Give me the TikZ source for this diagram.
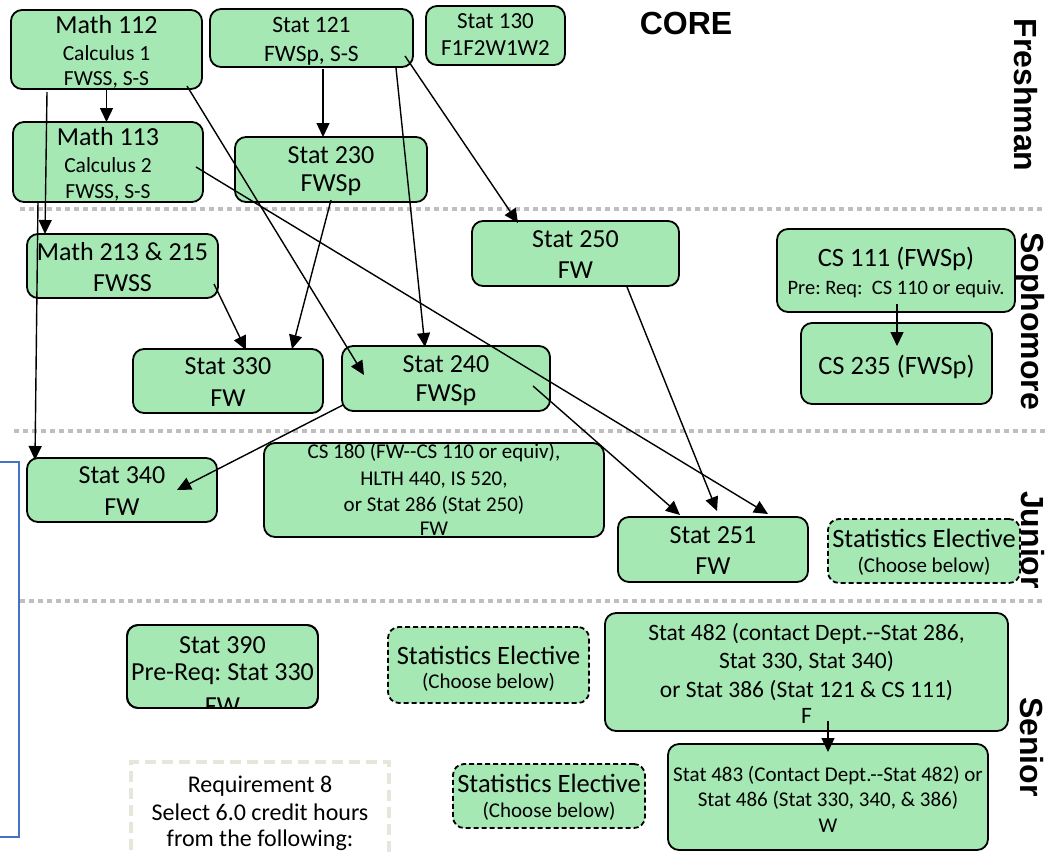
\documentclass[tikz,border=0pt]{standalone}
\usepackage{fontspec}
\setmainfont{Carlito}
\newfontfamily\hdrfont{Liberation Sans}
\usetikzlibrary{arrows.meta,calc}
\definecolor{boxgreen}{RGB}{166,232,180}
\definecolor{sepgray}{RGB}{191,191,191}
\definecolor{reqbeige}{RGB}{232,230,218}
\definecolor{bluelinec}{RGB}{68,114,196}
\newcommand\fsz[1]{\fontsize{#1}{#1}\selectfont}
\frenchspacing
\begin{document}
\begin{tikzpicture}[x=1pt,y=-1pt,
  box/.style 2 args={draw=black, fill=boxgreen, line width=1.8pt, rounded corners=11pt, inner sep=0pt, outer sep=0pt, minimum width=#1, minimum height=#2},
  ebox/.style 2 args={box={#1}{#2}, dash pattern=on 5pt off 3pt},
  tx/.style={anchor=base, inner sep=0pt, font=\fsz{#1}},
  hd/.style={anchor=base, inner sep=0pt, font=\hdrfont\bfseries\fsz{32}},
  arr/.style={line width=1.4pt, -{Triangle[length=14pt,width=13pt]}},
  sepline/.style={draw=sepgray, line width=4.5pt, dash pattern=on 4.5pt off 4.5pt},
  reqbox/.style={draw=reqbeige, fill=white, line width=4pt, dash pattern=on 11pt off 6pt, inner sep=0pt, outer sep=0pt, minimum width=258, minimum height=138}
]
\useasboundingbox (0,0) rectangle (1046,852);

% separators
\draw[sepline] (20,209) -- (1046,209);
\draw[sepline] (14,431) -- (1046,431);
\draw[sepline] (20,601) -- (1046,601);

% blue bracket
\draw[draw=bluelinec, line width=1.6pt] (0,462) -- (19,462) -- (19,837) -- (0,837);

% headers
\node[hd] (core) at (686,34) {CORE};
\node[hd, rotate=-90] (fresh) at (1014,95) {Freshman};
\node[hd, rotate=-90] (soph) at (1021,321) {Sophomore};
\node[hd, rotate=-90] (jun) at (1021,540) {Junior};
\node[hd, rotate=-90] (sen) at (1020,747) {Senior};

% Freshman
\node[box={191}{79}] (m112) at (106.5,49.5) {};
\node[tx=26] (m112a) at (106.5,33) {Math 112};
\node[tx=21.5] (m112b) at (106.5,60) {Calculus 1};
\node[tx=21.5] (m112c) at (106.5,85.5) {FWSS, S-S};

\node[box={203}{58}] (s121) at (311.5,38) {};
\node[tx=23.5] (s121a) at (311.5,32) {Stat 121};
\node[tx=23.5] (s121b) at (311.5,61) {FWSp, S-S};

\node[box={139}{59}] (s130) at (495.5,35.5) {};
\node[tx=23] (s130a) at (495.5,28) {Stat 130};
\node[tx=23] (s130b) at (495.5,55) {F1F2W1W2};

\node[box={190}{80}] (m113) at (108,162) {};
\node[tx=26] (m113a) at (108,145) {Math 113};
\node[tx=21.5] (m113b) at (108,172) {Calculus 2};
\node[tx=21.5] (m113c) at (108,198) {FWSS, S-S};

\node[box={192}{65}] (s230) at (331,169.5) {};
\node[tx=26] (s230a) at (331,163) {Stat 230};
\node[tx=26] (s230b) at (331,191) {FWSp};

% Sophomore
\node[box={191}{64}] (m213) at (122.5,266) {};
\node[tx=26] (m213a) at (122.5,260) {Math 213 \& 215};
\node[tx=26] (m213b) at (122.5,291) {FWSS};

\node[box={207}{65}] (s250) at (575.5,253.5) {};
\node[tx=26] (s250a) at (575.5,247) {Stat 250};
\node[tx=26] (s250b) at (575.5,278) {FW};

\node[box={238}{83}] (cs111) at (896,270.5) {};
\node[tx=26.5] (cs111a) at (896,266) {CS 111 (FWSp)};
\node[tx=20.5] (cs111b) at (896,294) {Pre: Req:\ \ CS 110 or equiv.};

\node[box={191}{81}] (cs235) at (896.5,363.5) {};
\node[tx=26.5] (cs235a) at (896.5,374) {CS 235 (FWSp)};

\node[box={190}{64}] (s330) at (228,381) {};
\node[tx=26] (s330a) at (228,374) {Stat 330};
\node[tx=26] (s330b) at (228,406) {FW};

\node[box={208}{65}] (s240) at (446,378.5) {};
\node[tx=26] (s240a) at (446,372) {Stat 240};
\node[tx=26] (s240b) at (446,401) {FWSp};

% Junior
\node[box={190}{64}] (s340) at (122,490) {};
\node[tx=26] (s340a) at (122,483) {Stat 340};
\node[tx=26] (s340b) at (122,515) {FW};

\node[box={340}{94}] (cs180) at (434,490) {};
\node[tx=21] (cs180a) at (434,458) {CS 180 (FW-{}-CS 110 or equiv),};
\node[tx=21] (cs180b) at (434,485) {HLTH 440, IS 520,};
\node[tx=21] (cs180c) at (434,511) {or Stat 286 (Stat 250)};
\node[tx=21] (cs180d) at (434,535) {FW};

\node[box={190}{65}] (s251) at (713,549.5) {};
\node[tx=26] (s251a) at (713,543) {Stat 251};
\node[tx=26] (s251b) at (713,574) {FW};

\node[ebox={192}{64}] (el1) at (924,551) {};
\node[tx=26.5] (el1a) at (924,547) {Statistics Elective};
\node[tx=21] (el1b) at (924,572) {(Choose below)};

% Senior
\node[box={191}{83}] (s390) at (222.5,666.5) {};
\begin{scope}
\clip[rounded corners=11pt] (s390.north west) rectangle (s390.south east);
\node[tx=26] (s390a) at (222.5,653) {Stat 390};
\node[tx=26] (s390b) at (222.5,680) {Pre-Req: Stat 330};
\node[tx=26] (s390c) at (222.5,714) {FW};
\end{scope}
\draw[line width=1.8pt, rounded corners=11pt] (s390.north west) rectangle (s390.south east);

\node[ebox={201}{76}] (el2) at (488.5,665) {};
\node[tx=26.5] (el2a) at (488.5,664) {Statistics Elective};
\node[tx=21] (el2b) at (488.5,688) {(Choose below)};

\node[box={403}{118}] (s482) at (806.5,672) {};
\node[tx=23.5] (s482a) at (806.5,640) {Stat 482 (contact Dept.-{}-Stat 286,};
\node[tx=23.5] (s482b) at (806.5,668) {Stat 330, Stat 340)};
\node[tx=23.5] (s482c) at (806.5,697) {or Stat 386 (Stat 121 \& CS 111)};
\node[tx=23.5] (s482d) at (806.5,723) {F};

\node[box={320}{106}] (s483) at (828,797) {};
\node[tx=21] (s483a) at (828,781) {Stat 483 (Contact Dept.-{}-Stat 482) or};
\node[tx=21] (s483b) at (828,806) {Stat 486 (Stat 330, 340, \& 386)};
\node[tx=21] (s483c) at (828,832) {W};

\node[ebox={192}{64}] (el3) at (549,796) {};
\node[tx=26.5] (el3a) at (549,792) {Statistics Elective};
\node[tx=21] (el3b) at (549,817) {(Choose below)};

\node[reqbox] (req8) at (260,831) {};
\node[tx=24] (req8a) at (260,792) {Requirement 8};
\node[tx=24] (req8b) at (260,820) {Select 6.0 credit hours};
\node[tx=24] (req8c) at (260,846) {from the following:};

% connectors
\draw[arr] (m112.south) -- (m112.south |- m113.north);
\draw[arr] ($(m112.south west)+(36,3)$) -- ($(m213.north west)+(18,0)$);
\draw[arr] ($(m113.south west)+(25,-1)$) -- ($(s340.north west)+(8,2)$);
\draw[arr] ($(m112.south west)+(176,-3)$) -- ($(s240.north west)+(22,29)$);
\draw[arr] ($(m113.north west)+(183,45)$) -- ($(s251.north west)+(150,-3)$);
\draw[arr] ($(s121.south west)+(113,2)$) -- ($(s230.north west)+(88,0)$);
\draw[arr] ($(s121.south west)+(186,1)$) -- ($(s240.north west)+(83,1)$);
\draw[arr] ($(s121.north west)+(195,47)$) -- ($(s250.north west)+(46,2)$);
\draw[arr] ($(s230.south west)+(96,-2)$) -- ($(s330.north west)+(159,0)$);
\draw[arr] ($(m213.north west)+(187,50)$) -- ($(s330.north west)+(113,1)$);
\draw[arr] ($(s240.south west)+(1,-6)$) -- ($(s340.north west)+(150,32)$);
\draw[arr] ($(s240.north west)+(191,40)$) -- ($(s251.north west)+(62,-2)$);
\draw[arr] ($(s250.south west)+(155,1)$) -- ($(s251.north west)+(99,-6)$);
\draw[arr] ($(cs111.north west)+(120,75)$) -- ($(cs235.north west)+(96,23)$);
\draw[arr] ($(s482.north west)+(223,108)$) -- ($(s483.north west)+(160,8)$);
\end{tikzpicture}
\end{document}
